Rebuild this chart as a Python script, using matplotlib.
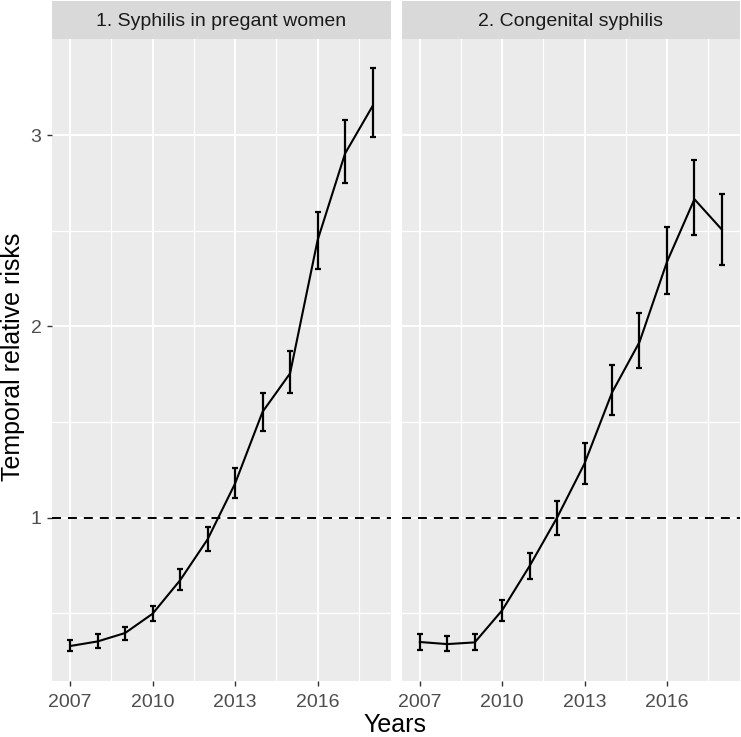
import numpy as np
import matplotlib
matplotlib.use("Agg")
from matplotlib import pyplot as plt

plt.rcParams['font.family'] = ['Liberation Sans', 'DejaVu Sans']

years = [2007, 2008, 2009, 2010, 2011, 2012, 2013, 2014, 2015, 2016, 2017, 2018]

# panel 1: syphilis in pregnant women
rr_preg = [0.328, 0.352, 0.396, 0.497, 0.672, 0.886, 1.178, 1.553, 1.754, 2.45, 2.904, 3.152]
lo_preg = [0.30, 0.319, 0.358, 0.459, 0.619, 0.825, 1.10, 1.452, 1.649, 2.30, 2.75, 2.99]
hi_preg = [0.36, 0.389, 0.427, 0.537, 0.729, 0.948, 1.26, 1.649, 1.872, 2.60, 3.08, 3.35]

# panel 2: congenital syphilis
rr_cong = [0.349, 0.338, 0.347, 0.515, 0.747, 1.0, 1.283, 1.654, 1.918, 2.337, 2.665, 2.506]
lo_cong = [0.307, 0.30, 0.307, 0.457, 0.677, 0.907, 1.178, 1.536, 1.78, 2.17, 2.48, 2.32]
hi_cong = [0.389, 0.379, 0.389, 0.567, 0.817, 1.089, 1.39, 1.797, 2.07, 2.52, 2.87, 2.69]

titles = ['1. Syphilis in pregant women', '2. Congenital syphilis']
xticks = [2007, 2010, 2013, 2016]
yticks = [1, 2, 3]

W, H = 741, 737
fig = plt.figure(figsize=(W / 100, H / 100), dpi=100)


def px_axes(x0, y0, x1, y1):
    return fig.add_axes([x0 / W, 1 - y1 / H, (x1 - x0) / W, (y1 - y0) / H])


panels = [(52, 390.7, rr_preg, lo_preg, hi_preg), (401.7, 740, rr_cong, lo_cong, hi_cong)]

top, bottom = 39, 681
for i, (x0, x1, rr, lo, hi) in enumerate(panels):
    ax = px_axes(x0, top, x1, bottom)
    ax.set_facecolor('#EBEBEB')
    for s in ax.spines.values():
        s.set_visible(False)

    # grid
    for xv in xticks:
        ax.axvline(xv, color='white', lw=1.4, zorder=0)
    for xv in [2008.5, 2011.5, 2014.5, 2017.5]:
        ax.axvline(xv, color='white', lw=0.9, zorder=0)
    for yv in yticks:
        ax.axhline(yv, color='white', lw=1.4, zorder=0)
    for yv in [0.5, 1.5, 2.5]:
        ax.axhline(yv, color='white', lw=0.9, zorder=0)

    ax.axhline(1, color='black', lw=1.4, ls=(0, (4.6, 3.6)), zorder=2)
    ax.plot(years, rr, color='black', lw=1.5, zorder=3)
    yerr = [np.array(rr) - np.array(lo), np.array(hi) - np.array(rr)]
    ax.errorbar(years, rr, yerr=yerr, fmt='none', ecolor='black', elinewidth=1.6,
                capsize=2, capthick=1.6, zorder=3)

    ax.set_xlim(2006.34, 2018.66)
    ax.set_ylim(0.145, 3.503)
    ax.set_xticks(xticks)
    ax.set_xticklabels([str(v) for v in xticks])
    ax.tick_params(axis='x', length=3.5, width=1.0, color='#333333',
                   labelcolor='#4D4D4D', labelsize=14, pad=6)
    ax.set_yticks(yticks)
    if i == 0:
        ax.set_yticklabels([str(v) for v in yticks])
        ax.tick_params(axis='y', length=3.5, width=1.0, color='#333333',
                       labelcolor='#4D4D4D', labelsize=14, pad=4)
    else:
        ax.tick_params(axis='y', length=0, labelleft=False)

    # strip
    sx = px_axes(x0, 1, x1, top)
    sx.set_facecolor('#D9D9D9')
    sx.set_xticks([])
    sx.set_yticks([])
    for s in sx.spines.values():
        s.set_visible(False)
    sx.text(0.5, 0.47, titles[i], ha='center', va='center', fontsize=14,
            color='#1A1A1A', transform=sx.transAxes)

fig.text(13 / W, 1 - 357 / H, 'Temporal relative risks', rotation=90,
         ha='center', va='center', fontsize=18, color='black')
fig.text(395 / W, 1 - 725 / H, 'Years', ha='center', va='center',
         fontsize=18, color='black')

fig.savefig('out.png', dpi=100)
